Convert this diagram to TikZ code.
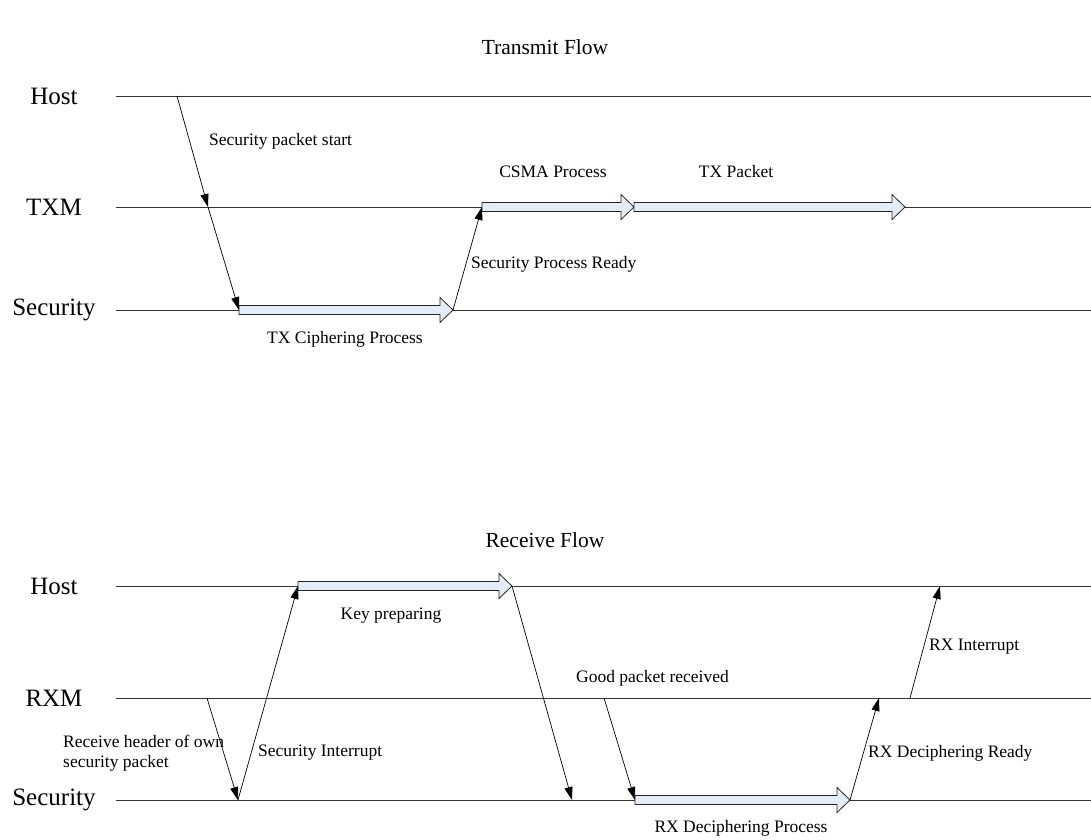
\documentclass[tikz,border=0pt]{standalone}
\usepackage{fontspec}
\setmainfont{Liberation Serif}
\usetikzlibrary{calc,arrows.meta}
\definecolor{procfill}{RGB}{228,236,247}
\tikzset{
  lane/.style={draw=black!80, line width=0.9pt},
  lanelabel/.style={inner sep=0pt, font=\fontsize{25}{28}\selectfont},
  title/.style={inner sep=0pt, font=\fontsize{21.5}{24}\selectfont},
  lbl/.style={inner sep=0pt, font=\fontsize{17.5}{20}\selectfont},
  msg/.style={draw=black, line width=0.7pt, -{Triangle[length=13pt,width=8pt]}},
  procarrow/.style={draw=black!85, line width=0.8pt, fill=procfill, line join=miter}
}
% wide hollow process arrow from #1 to #2 along a lane
\newcommand{\procarrow}[2]{%
  \draw[procarrow] ($(#1)+(0,-4.5)$) -- ($(#2)+(-13,-4.5)$) -- ($(#2)+(-13,-12.5)$)
    -- (#2) -- ($(#2)+(-13,12.5)$) -- ($(#2)+(-13,4.5)$) -- ($(#1)+(0,4.5)$) -- cycle;}
\begin{document}
\begin{tikzpicture}[x=1pt,y=-1pt]
\useasboundingbox (0,0) rectangle (1091,839);

% ---------------- Transmit flow ----------------
\node[title] (ttx) at (545,47) {Transmit Flow};
\node[lanelabel] (lhostT) at (54,96) {Host};
\node[lanelabel] (ltxm) at (54,207) {TXM};
\node[lanelabel] (lsecT) at (54,310) {Security};
\coordinate (hostTs) at (116,96);  \coordinate (hostTe) at (1091,96);
\coordinate (txms)   at (116,207); \coordinate (txme)   at (1091,207);
\coordinate (secTs)  at (116,310); \coordinate (secTe)  at (1091,310);
\draw[lane] (hostTs) -- (hostTe);
\draw[lane] (txms) -- (txme);
\draw[lane] (secTs) -- (secTe);

\coordinate (t0) at (177,96);
\coordinate (t1) at (208,207);
\coordinate (t2) at (239,310);
\coordinate (t3) at (453,310);
\coordinate (t4) at (482,207);
\coordinate (t5) at (634,207);
\coordinate (t6) at (905,207);

\procarrow{t2}{t3}
\procarrow{t4}{t5}
\procarrow{t5}{t6}
\draw[msg] (t0) -- (t1);
\draw[msg] (t1) -- (t2);
\draw[msg] (t3) -- (t4);

\node[lbl, anchor=west] (lspstart) at (209,141) {Security packet start};
\node[lbl] (ltxciph) at (345,339) {TX Ciphering Process};
\node[lbl, anchor=west] (lspready) at (471,264) {Security Process Ready};
\node[lbl] (lcsma) at (553,172) {CSMA Process};
\node[lbl] (ltxpkt) at (736,172) {TX Packet};

% ---------------- Receive flow ----------------
\node[title] (trx) at (545,540) {Receive Flow};
\node[lanelabel] (lhostR) at (54,586) {Host};
\node[lanelabel] (lrxm) at (54,698) {RXM};
\node[lanelabel] (lsecR) at (54,800) {Security};
\coordinate (hostRs) at (116,586); \coordinate (hostRe) at (1091,586);
\coordinate (rxms)   at (116,698); \coordinate (rxme)   at (1091,698);
\coordinate (secRs)  at (116,800); \coordinate (secRe)  at (1091,800);
\draw[lane] (hostRs) -- (hostRe);
\draw[lane] (rxms) -- (rxme);
\draw[lane] (secRs) -- (secRe);

\coordinate (r0)  at (207,698);
\coordinate (r1)  at (238,800);
\coordinate (r2)  at (298,586);
\coordinate (r3)  at (512,586);
\coordinate (r4)  at (572,800);
\coordinate (r5)  at (604,698);
\coordinate (r6)  at (635,800);
\coordinate (r7)  at (850,800);
\coordinate (r8)  at (879,698);
\coordinate (r9)  at (910,698);
\coordinate (r10) at (940,586);

\procarrow{r2}{r3}
\procarrow{r6}{r7}
\draw[msg] (r0) -- (r1);
\draw[msg] (r1) -- (r2);
\draw[msg] (r3) -- (r4);
\draw[msg] (r5) -- (r6);
\draw[msg] (r7) -- (r8);
\draw[msg] (r9) -- (r10);

\node[lbl, anchor=west, align=left] (lrxhdr) at (63,753) {Receive header of own\\security packet};
\node[lbl, anchor=west] (lsecint) at (258,753) {Security Interrupt};
\node[lbl] (lkeyprep) at (391,616) {Key preparing};
\node[lbl, anchor=west] (lgood) at (576,678) {Good packet received};
\node[lbl] (lrxdeciph) at (741,828) {RX Deciphering Process};
\node[lbl, anchor=west] (lrxready) at (868,753) {RX Deciphering Ready};
\node[lbl, anchor=west] (lrxint) at (929,647) {RX Interrupt};
\end{tikzpicture}
\end{document}
